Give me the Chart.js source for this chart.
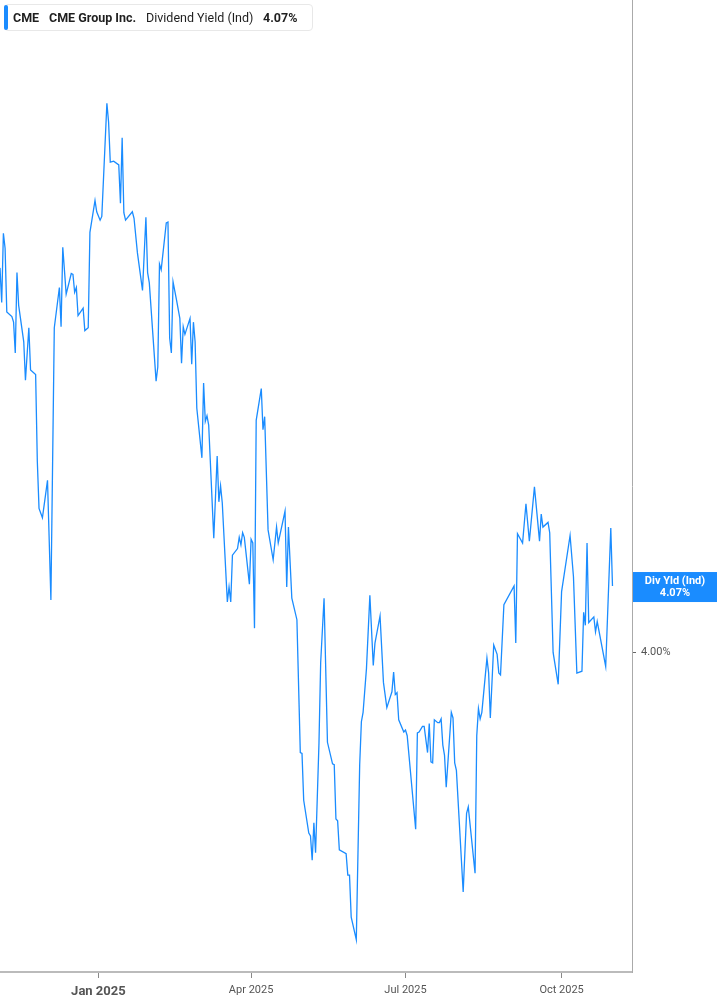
<!DOCTYPE html>
<html>
<head>
<meta charset="utf-8">
<script src="https://cdn.jsdelivr.net/npm/chart.js@4.4.1/dist/chart.umd.min.js"></script>
<style>
  html, body { margin: 0; padding: 0; background: #fff; }
  #wrap { position: relative; width: 717px; height: 1005px; }
  #legend { position: absolute; left: 4px; top: 4px; width: 307px; height: 25px;
            border: 1px solid #e8e8e8; border-radius: 4px; background: #fff;
            font-family: Roboto, "Noto Sans", sans-serif; font-size: 12.5px; color: #1f1f1f; }
  #legend .bar { position: absolute; left: -1px; top: 0px; width: 4px; height: 25px; background: #1a8cff; border-radius: 2px; }
  #legend span { position: absolute; top: 5px; white-space: nowrap; }
  #legend .b { font-weight: 700; }
</style>
</head>
<body>
<div id="wrap">
  <canvas id="myChart" width="717" height="1005"></canvas>
  <div id="legend">
    <div class="bar"></div>
    <span class="b" style="left:8px">CME</span>
    <span class="b" style="left:44px">CME Group Inc.</span>
    <span style="left:141px">Dividend Yield (Ind)</span>
    <span class="b" style="left:258px">4.07%</span>
  </div>
</div>
<script>
// CME dividend yield (indicated), %
const dates = [
  '2024-11-04','2024-11-05','2024-11-06','2024-11-07','2024-11-08','2024-11-11','2024-11-12','2024-11-13','2024-11-14','2024-11-15',
  '2024-11-18','2024-11-19','2024-11-21','2024-11-22','2024-11-25','2024-11-26','2024-11-27','2024-11-29','2024-12-02','2024-12-04',
  '2024-12-06','2024-12-09','2024-12-10','2024-12-11','2024-12-13','2024-12-16','2024-12-17','2024-12-18','2024-12-19','2024-12-20',
  '2024-12-23','2024-12-24','2024-12-26','2024-12-27','2024-12-30','2024-12-31','2025-01-02','2025-01-03','2025-01-06','2025-01-07',
  '2025-01-08','2025-01-10','2025-01-13','2025-01-14','2025-01-15','2025-01-16','2025-01-17','2025-01-21','2025-01-22','2025-01-24',
  '2025-01-27','2025-01-29','2025-01-30','2025-01-31','2025-02-04','2025-02-05','2025-02-06','2025-02-07','2025-02-10','2025-02-11',
  '2025-02-12','2025-02-13','2025-02-14','2025-02-16','2025-02-18','2025-02-19','2025-02-20','2025-02-21','2025-02-24','2025-02-25',
  '2025-02-26','2025-02-27','2025-02-28','2025-03-03','2025-03-04','2025-03-05','2025-03-06','2025-03-07','2025-03-10','2025-03-12',
  '2025-03-13','2025-03-14','2025-03-15','2025-03-18','2025-03-19','2025-03-20','2025-03-21','2025-03-24','2025-03-25','2025-03-26',
  '2025-03-27','2025-03-28','2025-03-31','2025-04-01','2025-04-02','2025-04-03','2025-04-04','2025-04-07','2025-04-08','2025-04-09',
  '2025-04-11','2025-04-14','2025-04-16','2025-04-17','2025-04-21','2025-04-22','2025-04-23','2025-04-25','2025-04-28','2025-04-30',
  '2025-05-01','2025-05-02','2025-05-05','2025-05-06','2025-05-07','2025-05-08','2025-05-09','2025-05-11','2025-05-12','2025-05-14',
  '2025-05-16','2025-05-19','2025-05-20','2025-05-21','2025-05-22','2025-05-23','2025-05-27','2025-05-28','2025-05-29','2025-05-30',
  '2025-06-02','2025-06-04','2025-06-05','2025-06-06','2025-06-08','2025-06-10','2025-06-12','2025-06-13','2025-06-16','2025-06-18',
  '2025-06-20','2025-06-23','2025-06-24','2025-06-25','2025-06-26','2025-06-27','2025-06-30','2025-07-01','2025-07-02','2025-07-07',
  '2025-07-08','2025-07-09','2025-07-11','2025-07-12','2025-07-14','2025-07-15','2025-07-16','2025-07-17','2025-07-18','2025-07-20',
  '2025-07-21','2025-07-22','2025-07-23','2025-07-24','2025-07-25','2025-07-28','2025-07-29','2025-07-30','2025-07-31','2025-08-04',
  '2025-08-06','2025-08-07','2025-08-11','2025-08-12','2025-08-13','2025-08-14','2025-08-15','2025-08-18','2025-08-19','2025-08-20',
  '2025-08-22','2025-08-24','2025-08-25','2025-08-26','2025-08-28','2025-09-03','2025-09-04','2025-09-05','2025-09-08','2025-09-10',
  '2025-09-12','2025-09-15','2025-09-18','2025-09-19','2025-09-20','2025-09-23','2025-09-24','2025-09-26','2025-09-29','2025-10-01',
  '2025-10-06','2025-10-08','2025-10-10','2025-10-13','2025-10-14','2025-10-15','2025-10-16','2025-10-17','2025-10-20','2025-10-21',
  '2025-10-22','2025-10-27','2025-10-30','2025-10-31'
];
const yields = [
  4.411, 4.374, 4.448, 4.432, 4.364, 4.359, 4.353, 4.320, 4.406, 4.371,
  4.332, 4.291, 4.347, 4.302, 4.297, 4.204, 4.154, 4.144, 4.184, 4.056,
  4.347, 4.390, 4.348, 4.433, 4.383, 4.405, 4.404, 4.385, 4.390, 4.360,
  4.368, 4.344, 4.347, 4.449, 4.483, 4.471, 4.462, 4.466, 4.587, 4.567,
  4.524, 4.525, 4.521, 4.480, 4.550, 4.470, 4.462, 4.471, 4.464, 4.427,
  4.387, 4.465, 4.406, 4.395, 4.290, 4.305, 4.415, 4.409, 4.459, 4.460,
  4.336, 4.320, 4.396, 4.377, 4.357, 4.309, 4.348, 4.340, 4.357, 4.308,
  4.353, 4.332, 4.261, 4.208, 4.288, 4.247, 4.253, 4.243, 4.122, 4.210,
  4.161, 4.178, 4.160, 4.054, 4.070, 4.054, 4.104, 4.111, 4.123, 4.115,
  4.128, 4.123, 4.073, 4.121, 4.117, 4.026, 4.248, 4.282, 4.238, 4.252,
  4.131, 4.099, 4.134, 4.117, 4.151, 4.070, 4.134, 4.058, 4.035, 3.893,
  3.892, 3.842, 3.807, 3.804, 3.778, 3.818, 3.786, 3.903, 3.989, 4.058,
  3.904, 3.881, 3.880, 3.822, 3.820, 3.789, 3.785, 3.762, 3.762, 3.717,
  3.693, 3.880, 3.926, 3.936, 3.983, 4.061, 3.986, 4.010, 4.039, 3.968,
  3.941, 3.958, 3.979, 3.955, 3.957, 3.928, 3.915, 3.917, 3.911, 3.811,
  3.914, 3.915, 3.921, 3.921, 3.893, 3.924, 3.883, 3.882, 3.928, 3.925,
  3.925, 3.929, 3.901, 3.890, 3.856, 3.936, 3.930, 3.882, 3.874, 3.744,
  3.828, 3.835, 3.764, 3.911, 3.940, 3.929, 3.936, 3.994, 3.978, 3.930,
  4.008, 3.998, 3.978, 3.976, 4.051, 4.071, 4.010, 4.127, 4.117, 4.159,
  4.119, 4.177, 4.119, 4.148, 4.134, 4.139, 4.128, 4.000, 3.966, 4.065,
  4.125, 4.081, 3.978, 3.980, 4.043, 4.029, 4.117, 4.032, 4.038, 4.022,
  4.033, 3.985, 4.133, 4.071
];
const tickDates = ['2025-01-01', '2025-04-01', '2025-07-01', '2025-10-01'];
const tickLabels = ['Jan 2025', 'Apr 2025', 'Jul 2025', 'Oct 2025'];
const yTicks = [4.00];
const seriesLabel = 'Div Yld (Ind)';

const lineBlue = '#1a8cff';
const origin = Date.UTC(2025, 0, 1);
function toDay(s) {
  const p = s.split('-').map(Number);
  return (Date.UTC(p[0], p[1] - 1, p[2]) - origin) / 864e5;
}
const points = dates.map((d, i) => ({ x: toDay(d), y: yields[i] }));
const tickDays = tickDates.map(toDay);

// box with the last value on the right axis
const lastLabel = {
  id: 'lastLabel',
  afterDraw(chart) {
    const { ctx, chartArea } = chart;
    const last = yields[yields.length - 1];
    const py = chart.scales.y.getPixelForValue(last);
    const x0 = chartArea.right + 1;
    ctx.save();
    ctx.fillStyle = lineBlue;
    ctx.fillRect(x0, py - 14, chart.width - x0, 30);
    ctx.fillStyle = '#fff';
    ctx.font = 'bold 11px Roboto, sans-serif';
    ctx.textAlign = 'center';
    ctx.textBaseline = 'middle';
    const cx = (x0 + chart.width) / 2;
    ctx.fillText(seriesLabel, cx, py - 5);
    ctx.fillText(last.toFixed(2) + '%', cx, py + 7);
    ctx.restore();
  }
};

const ctx = document.getElementById('myChart');
new Chart(ctx, {
  type: 'line',
  data: {
    datasets: [{
      data: points,
      borderColor: lineBlue,
      borderWidth: 1.3,
      pointRadius: 0,
      tension: 0,
      fill: false
    }]
  },
  options: {
    responsive: false,
    animation: false,
    layout: { padding: 0 },
    plugins: { legend: { display: false }, tooltip: { enabled: false } },
    scales: {
      x: {
        type: 'linear',
        min: -58,
        max: 314.5,
        afterBuildTicks: (a) => { a.ticks = tickDays.map(v => ({ value: v })); },
        afterFit: (s) => { s.height = 33; s.paddingLeft = 0; s.paddingRight = 0; },
        ticks: {
          autoSkip: false,
          maxRotation: 0,
          padding: 6,
          color: '#555',
          callback: (v, i) => tickLabels[i],
          font: (c) => c.index === 0
            ? { family: 'Roboto', size: 13, weight: 'bold' }
            : { family: 'Roboto', size: 11 }
        },
        grid: { drawOnChartArea: false, tickLength: 6, color: '#888' },
        border: { color: '#bbb', width: 2 }
      },
      y: {
        position: 'right',
        min: 3.6585,
        max: 4.6973,
        afterBuildTicks: (a) => { a.ticks = yTicks.map(v => ({ value: v })); },
        afterFit: (s) => { s.width = 85; s.paddingTop = 0; s.paddingBottom = 0; },
        ticks: {
          padding: 5,
          color: '#555',
          font: { family: 'Roboto', size: 11 },
          callback: (v) => v.toFixed(2) + '%'
        },
        grid: { drawOnChartArea: false, tickLength: 4, color: '#666' },
        border: { color: '#aaa', width: 1 }
      }
    }
  },
  plugins: [lastLabel]
});
</script>
</body>
</html>
